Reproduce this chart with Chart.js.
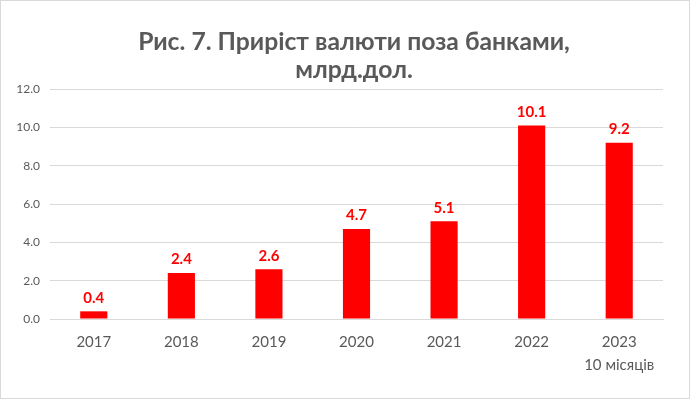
<!DOCTYPE html>
<html>
<head>
<meta charset="utf-8">
<script src="https://cdn.jsdelivr.net/npm/chart.js@4"></script>
<style>
  html, body { margin: 0; padding: 0; background: #fff; }
  .wrap { width: 688px; height: 397px; border: 1px solid #d9d9d9; }
</style>
</head>
<body>
<div class="wrap"><canvas id="growthChart" width="688" height="397"></canvas></div>
<script>
// ── Data ──
const years = ['2017', '2018', '2019', '2020', '2021', '2022', ['2023', '10 місяців']];
const growth = [0.4, 2.4, 2.6, 4.7, 5.1, 10.1, 9.2];
const titleLines = ['Рис. 7. Приріст валюти поза банками,', 'млрд.дол.'];

const FONT = 'Lato, "Open Sans", sans-serif';
const GREY = '#595959';
const RED = '#ff0000';

// ── Value labels above bars ──
const valueLabels = {
    id: 'valueLabels',
    afterDatasetsDraw(chart) {
        const { ctx } = chart;
        const meta = chart.getDatasetMeta(0);
        ctx.save();
        ctx.fillStyle = RED;
        ctx.font = 'bold 15px ' + FONT;
        ctx.textAlign = 'center';
        ctx.textBaseline = 'bottom';
        meta.data.forEach((bar, i) => {
            ctx.fillText(growth[i].toFixed(1), bar.x, bar.y - 6);
        });
        ctx.restore();
    }
};

// ── Title (centred a bit right of the canvas, like the original) ──
const chartTitle = {
    id: 'chartTitle',
    afterDraw(chart) {
        const { ctx } = chart;
        ctx.save();
        ctx.fillStyle = GREY;
        ctx.font = 'bold 24.7px ' + FONT;
        ctx.textAlign = 'center';
        ctx.textBaseline = 'middle';
        titleLines.forEach((line, i) => ctx.fillText(line, 353, 41 + i * 28));
        ctx.restore();
    }
};

new Chart(document.getElementById('growthChart'), {
    type: 'bar',
    data: {
        labels: years,
        datasets: [{
            data: growth,
            backgroundColor: RED,
            borderWidth: 0,
            categoryPercentage: 1,
            barPercentage: 0.31,
        }]
    },
    options: {
        responsive: false,
        animation: false,
        layout: { padding: { left: 0, right: 26, top: 88, bottom: 0 } },
        plugins: {
            legend: { display: false },
            tooltip: { enabled: false }
        },
        scales: {
            x: {
                grid: { display: false },
                border: { color: '#d9d9d9' },
                ticks: { color: GREY, font: { family: FONT, size: 15, lineHeight: 1.53 }, padding: 4, maxRotation: 0 },
                afterFit: s => { s.height = 79; }
            },
            y: {
                min: 0, max: 12,
                grid: { color: '#d9d9d9', drawTicks: false },
                border: { display: false },
                ticks: {
                    stepSize: 2, color: GREY, padding: 10,
                    font: { family: FONT, size: 12 },
                    callback: v => v.toFixed(1)
                },
                afterFit: s => { s.width = 49; }
            }
        }
    },
    plugins: [valueLabels, chartTitle]
});
</script>
</body>
</html>
